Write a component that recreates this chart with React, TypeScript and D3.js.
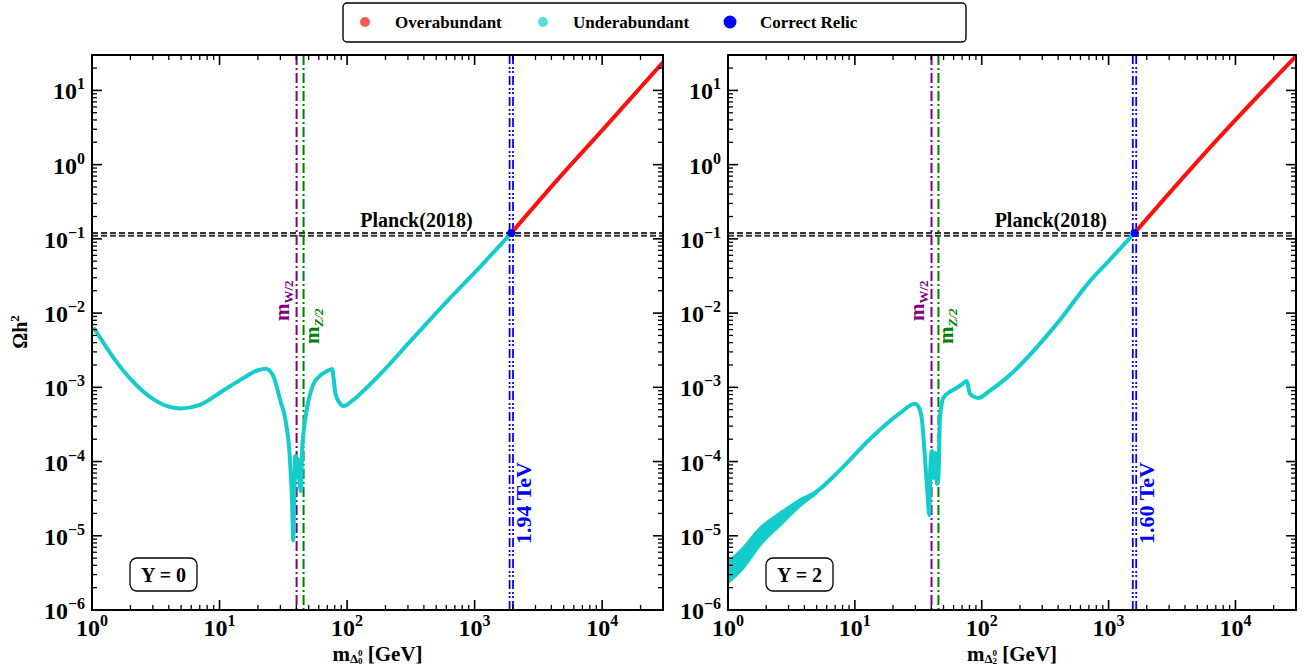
import React from 'react';
import * as d3 from 'd3';

// ---- data -------------------------------------------------------------
const massDecades = [1, 10, 100, 1000, 10000];
const omegaDecades = [1e-6, 1e-5, 1e-4, 1e-3, 1e-2, 1e-1, 1, 10];
const massDomain = [1, 30000];
const omegaDomain = [1e-6, 30];

const planckBand = [0.11, 0.12];
const planckLabelMass = 350;
const halfWMass = 40.19;
const halfZMass = 45.59;

// Y = 0 triplet: relic abundance vs neutral mass
const y0UnderMass = [1.05, 1.5, 2, 3, 4, 5, 7, 10, 15, 20, 23, 26, 30, 33, 35.5, 37, 37.8, 38.6, 39.3, 40, 41, 42.5, 43.5, 44.5, 45.5, 48.6, 54.5, 62, 69.8, 76.4, 78.5, 81.1, 87, 93.7, 110, 127, 183, 300, 600, 1000, 1940];
const y0UnderOmega = [6.1e-3, 2.4e-3, 1.3e-3, 7.0e-4, 5.5e-4, 5.2e-4, 5.8e-4, 8.4e-4, 1.3e-3, 1.7e-3, 1.78e-3, 1.5e-3, 6.6e-4, 3.5e-4, 1.2e-4, 3.0e-5, 8.7e-6, 4.0e-5, 1.2e-4, 6.0e-5, 1.1e-4, 5.0e-5, 4.0e-5, 1.5e-4, 2.4e-4, 5.3e-4, 1.11e-3, 1.45e-3, 1.66e-3, 1.77e-3, 1.3e-3, 8.2e-4, 6.2e-4, 5.6e-4, 6.6e-4, 8.2e-4, 1.52e-3, 3.84e-3, 1.41e-2, 3.5e-2, 0.12];
const y0OverMass = [1940, 5000, 10000, 30000];
const y0OverOmega = [0.12, 0.78, 2.9, 24];

// Y = 2 triplet
const y2UnderMass = [1, 1.3, 1.8, 2.6, 3.7, 4.85, 7.6, 13.1, 22.7, 29.8, 31.5, 33.6, 35.7, 37.2, 38.6, 39.3, 40.5, 41.5, 43, 44.5, 45.5, 46.9, 49.8, 55, 63.4, 70, 76, 78, 80.7, 88, 94, 116, 157, 389, 713, 1000, 1600];
const y2UnderOmega = [4.3e-6, 6.5e-6, 1.25e-5, 2.0e-5, 3.0e-5, 3.8e-5, 7.6e-5, 2.0e-4, 4.5e-4, 6.0e-4, 5.6e-4, 3.9e-4, 1.1e-4, 4.1e-5, 1.9e-5, 8.0e-5, 1.4e-4, 6.0e-5, 1.3e-4, 5.0e-5, 6.0e-5, 3.9e-4, 7.2e-4, 8.5e-4, 9.8e-4, 1.1e-3, 1.22e-3, 1.05e-3, 8.2e-4, 7.4e-4, 7.2e-4, 9.0e-4, 1.34e-3, 7.1e-3, 2.7e-2, 5.0e-2, 0.12];
// lower edge of the spread at small masses
const y2SpreadMass = [1, 1.3, 1.8, 2.6, 3.7, 4.85];
const y2SpreadLower = [2.4e-6, 3.7e-6, 7.8e-6, 1.45e-5, 2.6e-5, 3.7e-5];
const y2OverMass = [1600, 5000, 10000, 30000];
const y2OverOmega = [0.12, 1.1, 4.0, 29];

const relicMass = [1940, 1600];
const relicLabels = ['1.94 TeV', '1.60 TeV'];
const hyperchargeLabels = ['Y = 0', 'Y = 2'];
const isospinIndex = ['0', '2'];

const legendLabels = ['Overabundant', 'Underabundant', 'Correct Relic'];
const legendColors = ['#f25a5a', '#58dcdc', '#0000ff'];

// ---- styling ----------------------------------------------------------
const FONT = '"Liberation Serif", "Times New Roman", serif';
const CYAN = '#14cccc';
const RED = '#ff1010';
const BLUE = '#0000ff';
const PURPLE = '#800080';
const GREEN = '#008000';

const zip = (a: number[], b: number[]) => a.map((v, i) => [v, b[i]] as [number, number]);

const supDigits = (n: number) => (n < 0 ? '\u2212' + Math.abs(n) : String(n));

type PanelProps = {
  left: number;
  right: number;
  top: number;
  bottom: number;
  idx: number;
};

function Panel({ left, right, top, bottom, idx }: PanelProps) {
  const xs = d3.scaleLog().domain(massDomain).range([left, right]);
  const ys = d3.scaleLog().domain(omegaDomain).range([bottom, top]);
  const line = d3
    .line<[number, number]>()
    .x((d) => xs(d[0]))
    .y((d) => ys(d[1]))
    .curve(d3.curveMonotoneX);

  const under = idx === 0 ? zip(y0UnderMass, y0UnderOmega) : zip(y2UnderMass, y2UnderOmega);
  const over = idx === 0 ? zip(y0OverMass, y0OverOmega) : zip(y2OverMass, y2OverOmega);
  const relic = relicMass[idx];

  // minor ticks
  const xMinor: number[] = [];
  massDecades.forEach((d) => {
    for (let k = 2; k <= 9; k++) if (d * k <= massDomain[1]) xMinor.push(d * k);
  });
  const yMinor: number[] = [];
  omegaDecades.forEach((d) => {
    for (let k = 2; k <= 9; k++) if (d * k <= omegaDomain[1]) yMinor.push(d * k);
  });

  const MAJ = 10;
  const MIN = 5;

  let spread: string | null = null;
  let spreadLowerLine: string | null = null;
  if (idx === 1) {
    const rows = y2SpreadMass.map((m, i) => [m, y2UnderOmega[i], y2SpreadLower[i]] as [number, number, number]);
    spread = d3
      .area<[number, number, number]>()
      .x((d) => xs(d[0]))
      .y0((d) => ys(d[2]))
      .y1((d) => ys(d[1]))
      .curve(d3.curveMonotoneX)(rows);
    spreadLowerLine = line(zip(y2SpreadMass, y2SpreadLower));
  }

  const xRelic = xs(relic);
  const xW = xs(halfWMass);
  const xZ = xs(halfZMass);
  const yPlanck = ys(planckBand[1]);

  return (
    <g>
      <defs>
        <clipPath id={`clip${idx}`}>
          <rect x={left} y={top} width={right - left} height={bottom - top} />
        </clipPath>
      </defs>

      <g clipPath={`url(#clip${idx})`}>
        {/* Planck band */}
        {planckBand.map((p, i) => (
          <line key={i} x1={left} x2={right} y1={ys(p)} y2={ys(p)} stroke="#333" strokeWidth={2} strokeDasharray="6,3" />
        ))}
        {/* W/2 and Z/2 thresholds */}
        <line x1={xW} x2={xW} y1={top} y2={bottom} stroke={PURPLE} strokeWidth={2} strokeDasharray="10,3,2,3" />
        <line x1={xZ} x2={xZ} y1={top} y2={bottom} stroke={GREEN} strokeWidth={2} strokeDasharray="10,3,2,3" />
        {/* relic mass */}
        {[-1.7, 1.7].map((o) => (
          <line key={o} x1={xRelic + o} x2={xRelic + o} y1={top} y2={bottom} stroke={BLUE} strokeWidth={1.8} strokeDasharray="9,3,2,2,2,3" />
        ))}

        {spread && <path d={spread} fill={CYAN} stroke="none" />}
        {spreadLowerLine && <path d={spreadLowerLine} fill="none" stroke={CYAN} strokeWidth={4} strokeLinecap="round" />}
        <path d={line(under) || ''} fill="none" stroke={CYAN} strokeWidth={4} strokeLinejoin="round" strokeLinecap="round" />
        <path d={line(over) || ''} fill="none" stroke={RED} strokeWidth={4} strokeLinecap="round" />
        <circle cx={xRelic} cy={ys(planckBand[1])} r={4} fill={BLUE} />
      </g>

      {/* frame */}
      <rect x={left} y={top} width={right - left} height={bottom - top} fill="none" stroke="#000" strokeWidth={2} />

      {/* ticks */}
      {massDecades.map((d) => (
        <g key={'xM' + d} stroke="#000" strokeWidth={1.6}>
          <line x1={xs(d)} x2={xs(d)} y1={bottom} y2={bottom - MAJ} />
          <line x1={xs(d)} x2={xs(d)} y1={top} y2={top + MAJ} />
        </g>
      ))}
      {xMinor.map((d) => (
        <g key={'xm' + d} stroke="#000" strokeWidth={1.3}>
          <line x1={xs(d)} x2={xs(d)} y1={bottom} y2={bottom - MIN} />
          <line x1={xs(d)} x2={xs(d)} y1={top} y2={top + MIN} />
        </g>
      ))}
      {omegaDecades.map((d) => (
        <g key={'yM' + d} stroke="#000" strokeWidth={1.6}>
          <line x1={left} x2={left + MAJ} y1={ys(d)} y2={ys(d)} />
          <line x1={right} x2={right - MAJ} y1={ys(d)} y2={ys(d)} />
        </g>
      ))}
      {yMinor.map((d) => (
        <g key={'ym' + d} stroke="#000" strokeWidth={1.3}>
          <line x1={left} x2={left + MIN} y1={ys(d)} y2={ys(d)} />
          <line x1={right} x2={right - MIN} y1={ys(d)} y2={ys(d)} />
        </g>
      ))}

      {/* tick labels */}
      {massDecades.map((d) => (
        <text key={'xl' + d} x={xs(d)} y={bottom + 26} textAnchor="middle" fontFamily={FONT} fontWeight="bold" fontSize={24}>
          10<tspan fontSize={16} dy={-10}>{supDigits(Math.round(Math.log10(d)))}</tspan>
        </text>
      ))}
      {omegaDecades.map((d) => (
        <text key={'yl' + d} x={left - 7} y={ys(d) + 9} textAnchor="end" fontFamily={FONT} fontWeight="bold" fontSize={24}>
          10<tspan fontSize={16} dy={-10}>{supDigits(Math.round(Math.log10(d)))}</tspan>
        </text>
      ))}

      {/* x axis title */}
      <text x={(left + right) / 2} y={bottom + 51} textAnchor="middle" fontFamily={FONT} fontWeight="bold" fontSize={21}>
        m
        <tspan fontSize={13} dy={2}>{'\u0394'}</tspan>
        <tspan fontSize={9} dy={-7}>0</tspan>
        <tspan fontSize={9} dx={-4.5} dy={8}>{isospinIndex[idx]}</tspan>
        <tspan fontSize={21} dy={-3}> [GeV]</tspan>
      </text>

      {/* annotations */}
      <text x={xs(planckLabelMass)} y={yPlanck - 6} textAnchor="middle" fontFamily={FONT} fontWeight="bold" fontSize={20}>
        Planck(2018)
      </text>
      <text transform={`translate(${xW - 8},${321}) rotate(-90)`} fill={PURPLE} fontFamily={FONT} fontWeight="bold" fontSize={21}>
        m<tspan fontSize={13} dy={4}>W/2</tspan>
      </text>
      <text transform={`translate(${xZ + 15},${344}) rotate(-90)`} fill={GREEN} fontFamily={FONT} fontWeight="bold" fontSize={21}>
        m<tspan fontSize={13} dy={4} fontStyle="italic">Z/2</tspan>
      </text>
      <text transform={`translate(${xRelic + 20},${503}) rotate(-90)`} textAnchor="middle" fill={BLUE} fontFamily={FONT} fontWeight="bold" fontSize={22}>
        {relicLabels[idx]}
      </text>

      {/* hypercharge badge */}
      <rect x={left + 38} y={558} width={67} height={33} rx={7} fill="#fff" stroke="#000" strokeWidth={1.3} />
      <text x={left + 38 + 33.5} y={582} textAnchor="middle" fontFamily={FONT} fontWeight="bold" fontSize={20}>
        {hyperchargeLabels[idx]}
      </text>
    </g>
  );
}

export default function App() {
  const legendX = [365, 543, 730];
  return (
    <svg width={1306} height={668} style={{ position: 'absolute', left: 0, top: 0, background: '#fff' }}>
      <rect width={1306} height={668} fill="#fff" />
      <Panel left={92} right={663} top={55} bottom={610} idx={0} />
      <Panel left={728} right={1296} top={55} bottom={610} idx={1} />

      {/* y title */}
      <text transform="translate(27,332) rotate(-90)" textAnchor="middle" fontFamily={FONT} fontWeight="bold" fontSize={20}>
        {'\u03A9h'}<tspan fontSize={13} dy={-8}>2</tspan>
      </text>

      {/* legend */}
      <rect x={343} y={3} width={623} height={39} rx={4} fill="#fff" stroke="#000" strokeWidth={1.4} />
      {legendLabels.map((l, i) => (
        <g key={l}>
          <circle cx={legendX[i]} cy={22} r={i === 2 ? 6.5 : 5} fill={legendColors[i]} />
          <text x={legendX[i] + 30} y={28} fontFamily={FONT} fontWeight="bold" fontSize={17}>
            {l}
          </text>
        </g>
      ))}
    </svg>
  );
}
